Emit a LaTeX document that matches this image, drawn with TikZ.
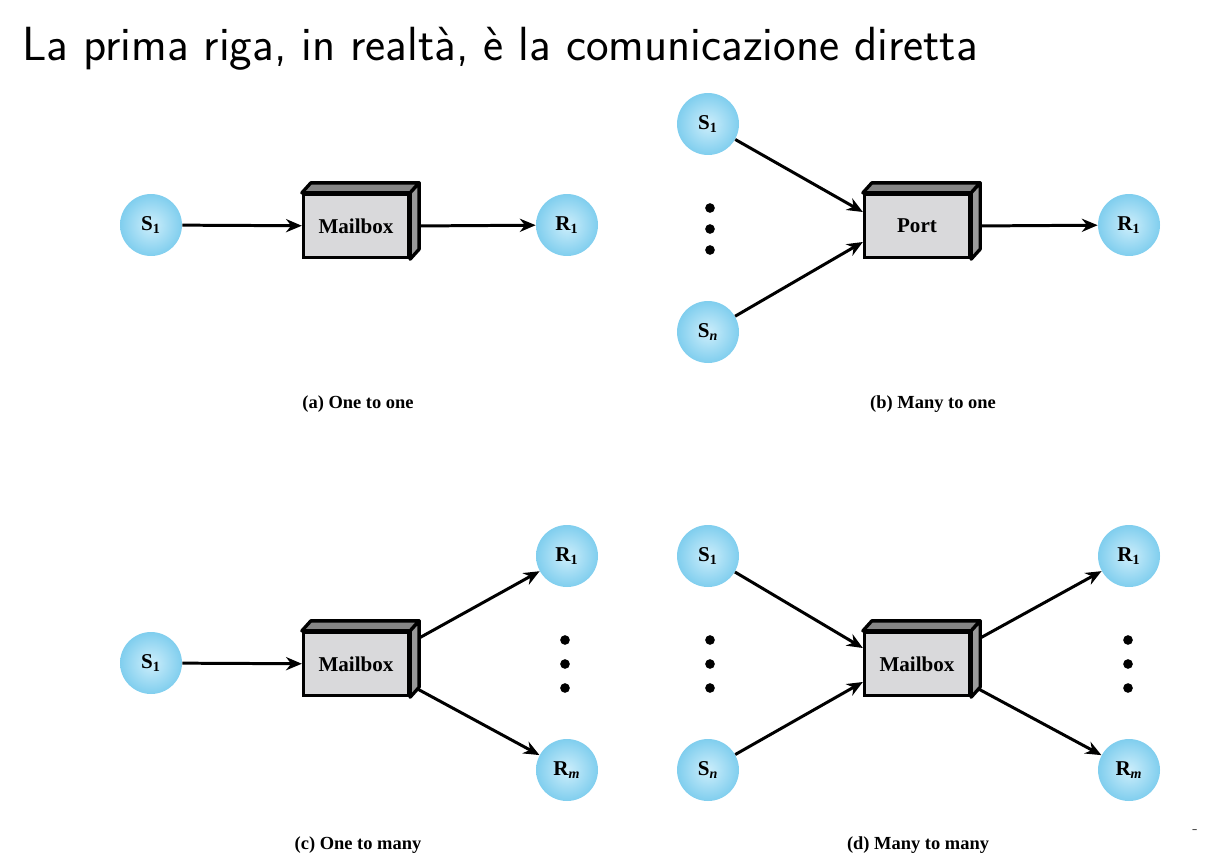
\documentclass[tikz,border=0pt]{standalone}
\usepackage{fontspec}
\newfontfamily\figfont{Liberation Serif}
\usetikzlibrary{arrows.meta}
\definecolor{ballin}{HTML}{CDEEFB}
\definecolor{ballout}{HTML}{80CEEE}
\definecolor{boxfront}{HTML}{D9D9DB}
\definecolor{boxtop}{HTML}{858585}
\definecolor{boxside}{HTML}{9A9A9A}
\tikzset{
  ball/.style={circle,inner sep=0pt,minimum size=1.24cm,shading=radial,inner color=ballin,outer color=ballout,
    font=\figfont\fontsize{12}{13}\selectfont\bfseries},
  mbox/.style={draw=black,line width=1.9pt,fill=boxfront,minimum width=2.1cm,minimum height=1.26cm,inner sep=0pt,
    font=\figfont\fontsize{12}{14}\selectfont\bfseries},
  face/.style={draw=black,line width=1.9pt,line join=round},
  msg/.style={line width=1.7pt,-{Stealth[length=9pt,width=7.5pt]}},
  dot/.style={circle,fill=black,inner sep=0pt,minimum size=5.5pt},
  caption/.style={font=\figfont\fontsize{10.5}{12}\selectfont\bfseries}
}
\newcommand\boxdepth[1]{%
  \filldraw[face,fill=boxtop] (#1.north west) -- ++(0.18cm,0.2cm) -- ([shift={(0.18cm,0.2cm)}]#1.north east) -- (#1.north east) -- cycle;
  \filldraw[face,fill=boxside] (#1.north east) -- ++(0.18cm,0.2cm) -- ([shift={(0.18cm,0.2cm)}]#1.south east) -- (#1.south east) -- cycle;
}
\begin{document}
\begin{tikzpicture}[x=0.02cm,y=-0.02cm]
\useasboundingbox (0,0) rectangle (1219,862);
\node[anchor=base west,inner sep=0pt,font=\sffamily\fontsize{27.3}{32}\selectfont] (title) at (22,60) {La prima riga, in realtà, è la comunicazione diretta};

\node[ball] (as1) at (151,225) {S\textsubscript{1}};
\node[mbox] (amb) at (356,226) {Mailbox};
\node[ball] (ar1) at (567,225) {R\textsubscript{1}};
\draw[msg] (as1) -- (amb);
\draw[msg] (amb.east) -- (ar1);
\boxdepth{amb}
\node[caption] (capa) at (358,404) {(a) One to one};

\node[ball] (bs1) at (708,124) {S\textsubscript{1}};
\node[ball] (bsn) at (708,332) {S\textsubscript{\itshape n}};
\node[dot] (bd1) at (710,208) {};
\node[dot] (bd2) at (710,229) {};
\node[dot] (bd3) at (710,250) {};
\node[mbox] (bpt) at (917,226) {Port};
\node[ball] (br1) at (1129,225) {R\textsubscript{1}};
\draw[msg] (bs1) -- ([yshift=0.28cm]bpt.west);
\draw[msg] (bsn) -- ([yshift=-0.32cm]bpt.west);
\draw[msg] (bpt.east) -- (br1);
\boxdepth{bpt}
\node[caption] (capb) at (933,404) {(b) Many to one};

\node[ball] (cs1) at (151,663) {S\textsubscript{1}};
\node[mbox] (cmb) at (356,664) {Mailbox};
\node[ball] (cr1) at (567,556) {R\textsubscript{1}};
\node[ball] (crm) at (567,770) {R\textsubscript{\itshape m}};
\node[dot] (cd1) at (565,640) {};
\node[dot] (cd2) at (565,664) {};
\node[dot] (cd3) at (565,688) {};
\draw[msg] (cs1) -- (cmb);
\draw[msg] ([yshift=0.42cm]cmb.east) -- (cr1);
\draw[msg] ([yshift=-0.42cm]cmb.east) -- (crm);
\boxdepth{cmb}
\node[caption] (capc) at (358,845) {(c) One to many};

\node[ball] (ds1) at (708,556) {S\textsubscript{1}};
\node[ball] (dsn) at (708,770) {S\textsubscript{\itshape n}};
\node[dot] (dd1) at (710,640) {};
\node[dot] (dd2) at (710,664) {};
\node[dot] (dd3) at (710,688) {};
\node[mbox] (dmb) at (917,664) {Mailbox};
\node[ball] (dr1) at (1129,556) {R\textsubscript{1}};
\node[ball] (drm) at (1129,770) {R\textsubscript{\itshape m}};
\node[dot] (de1) at (1128,640) {};
\node[dot] (de2) at (1128,664) {};
\node[dot] (de3) at (1128,688) {};
\draw[msg] (ds1) -- ([yshift=0.32cm]dmb.west);
\draw[msg] (dsn) -- ([yshift=-0.36cm]dmb.west);
\draw[msg] ([yshift=0.42cm]dmb.east) -- (dr1);
\draw[msg] ([yshift=-0.42cm]dmb.east) -- (drm);
\boxdepth{dmb}
\node[caption] (capd) at (918,845) {(d) Many to many};

\node[font=\small,text=darkgray] (mark) at (1195,832) {-};
\end{tikzpicture}
\end{document}
